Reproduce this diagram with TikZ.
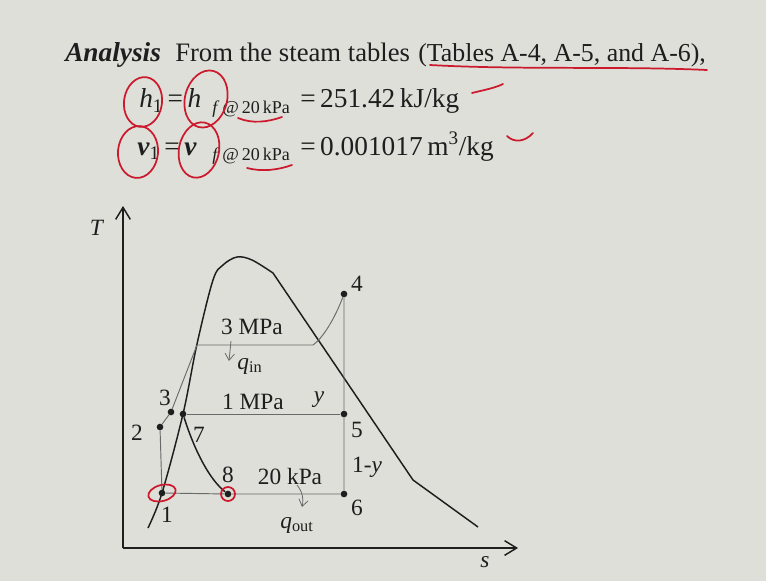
\documentclass[tikz,border=0pt]{standalone}
\usepackage{fontspec}
\setmainfont{Liberation Serif}
\usetikzlibrary{arrows.meta,positioning}
\definecolor{slide}{RGB}{221,223,216}
\definecolor{ink}{RGB}{30,30,30}
\definecolor{pen}{RGB}{205,25,45}
\definecolor{thin}{RGB}{105,105,105}
\tikzset{
  cycleline/.style={draw=thin, line width=0.7pt},
  dome/.style={draw=ink, line width=1.1pt},
  axis/.style={draw=ink, line width=1.3pt, -{Straight Barb[length=9pt,width=11pt,line width=1.1pt]}},
  dot/.style={circle, fill=ink, inner sep=0pt, minimum size=5pt},
  lbl/.style={text=ink, font=\fontsize{17.5}{19}\selectfont, inner sep=0pt},
  big/.style={text=ink, font=\fontsize{20.5}{23}\selectfont, inner sep=0pt, anchor=base west},
  sub/.style={text=ink, font=\fontsize{13.5}{15}\selectfont, inner sep=0pt, anchor=base west},
  penline/.style={draw=pen, line width=1.3pt, line cap=round},
  heat/.style={draw=thin, line width=0.6pt, -{Straight Barb[length=5pt,width=7pt]}},
}
\begin{document}
\begin{tikzpicture}[x=0.75pt,y=-0.75pt]
    \fill[slide] (0,0) rectangle (766,581);
    \useasboundingbox (0,0) rectangle (766,581);
    % Header text
    \node[big, font=\fontsize{20.5}{23}\selectfont] (ana) at (65,62) {\textbf{\textit{Analysis}}};
    \node[big, font=\fontsize{20}{23}\selectfont] (from) at (175,62) {From the steam tables};
    \node[big, font=\fontsize{19.4}{23}\selectfont] (tabs) at (418,62) {(Tables A-4, A-5, and A-6),};
    \node[big] (hone) at (139,108) {\textit{h}\textsubscript{1}\,=\,\textit{h}};
    \node[sub] (hsub) at (212,114) {\textit{f}\,@\,20\,kPa};
    \node[big] (hval) at (300,108) {=\,251.42\,kJ/kg};
    \node[big] (vone) at (137,155) {\textbf{\textit{v}}\textsubscript{1}\,=\,\textbf{\textit{v}}};
    \node[sub] (vsub) at (212,161) {\textit{f}\,@\,20\,kPa};
    \node[big] (vval) at (300,155) {=\,0.001017\,m\textsuperscript{3}/kg};
    % Axes
    \coordinate (org) at (123,548);
    \coordinate (Tend) at (123,206);
    \coordinate (send) at (518,548);
    \draw[axis] (org) -- (Tend);
    \draw[axis] (org) -- (send);
    \node[lbl] (Tlab) at (97,228) {\textit{T}};
    \node[lbl] (slab) at (485,562) {\textit{s}};
    % Saturation dome
    \draw[dome] plot[smooth, tension=0.55] coordinates {(148,528) (162,493) (183,414) (197,344)
        (213,280) (223,265) (237,257) (252,260) (273,273)} -- (413,480) -- (478,527);
    % State points
    \node[dot] (p1) at (162,493) {};
    \node[dot] (p2) at (160,427) {};
    \node[dot] (p3) at (171,412) {};
    \node[dot] (p7) at (183,414) {};
    \node[dot] (p8) at (228,494) {};
    \node[dot] (p4) at (344,294) {};
    \node[dot] (p5) at (344,414) {};
    \node[dot] (p6) at (344,494) {};
    \coordinate (hiL) at (197,345);
    \coordinate (hiR) at (313,345);
    % Cycle
    \draw[cycleline] (p1) -- (p2) -- (p3) -- (hiL) -- (hiR) .. controls (323,338) and (335,318) .. (p4);
    \draw[cycleline] (p4) -- (p5) -- (p6) -- (p8) -- (p1);
    \draw[cycleline] (p7) -- (p5);
    \draw[dome] (p7) .. controls (195,452) and (210,480) .. (p8);
    % Labels
    \node[lbl] (l1) at (167,515) {1};
    \node[lbl] (l2) at (137,433) {2};
    \node[lbl] (l3) at (165,398) {3};
    \node[lbl] (l4) at (357,284) {4};
    \node[lbl] (l5) at (357,430) {5};
    \node[lbl] (l6) at (357,508) {6};
    \node[lbl] (l7) at (199,435) {7};
    \node[lbl] (l8) at (228,475) {8};
    \node[lbl] (phi) at (252,327) {3 MPa};
    \node[lbl] (pmid) at (253,402) {1 MPa};
    \node[lbl] (plo) at (290,477) {20 kPa};
    \node[lbl] (yfrac) at (319,400) {\textit{y}};
    \node[lbl] (yrest) at (367,467) {1-\textit{y}};
    \node[lbl] (qin) at (250,366) {\textit{q}\textsubscript{in}};
    \node[lbl] (qout) at (297,525) {\textit{q}\textsubscript{out}};
    % Heat arrows
    \coordinate (qinTop) at (231,341);
    \coordinate (qinTip) at (229,361);
    \coordinate (qoutTop) at (297,485);
    \coordinate (qoutTip) at (302,507);
    \draw[heat] (qinTop) -- (qinTip);
    \draw[heat] (qoutTop) to[bend left=25] (qoutTip);
    % Red pen marks
    \draw[penline] (430,65) .. controls (520,70) and (620,66) .. (707,70);
    \draw[penline, rotate around={-8:(143,102)}] (143,102) ellipse [x radius=19, y radius=25];
    \draw[penline, rotate around={-15:(206,99)}] (206,99) ellipse [x radius=21, y radius=29];
    \draw[penline, rotate around={-5:(138,152)}] (138,152) ellipse [x radius=20, y radius=26];
    \draw[penline, rotate around={-12:(199,150)}] (199,150) ellipse [x radius=20, y radius=28];
    \draw[penline] (238,118) .. controls (252,124) and (268,122) .. (282,117);
    \draw[penline] (247,168) .. controls (262,172) and (278,170) .. (292,165);
    \draw[penline] (472,93) .. controls (484,90) and (495,88) .. (503,84);
    \draw[penline] (507,136) .. controls (514,143) and (525,142) .. (533,133);
    \draw[penline, rotate around={15:(p1)}] (p1) ellipse [x radius=14, y radius=8];
    \draw[penline] (p8) circle [radius=7];
\end{tikzpicture}
\end{document}
